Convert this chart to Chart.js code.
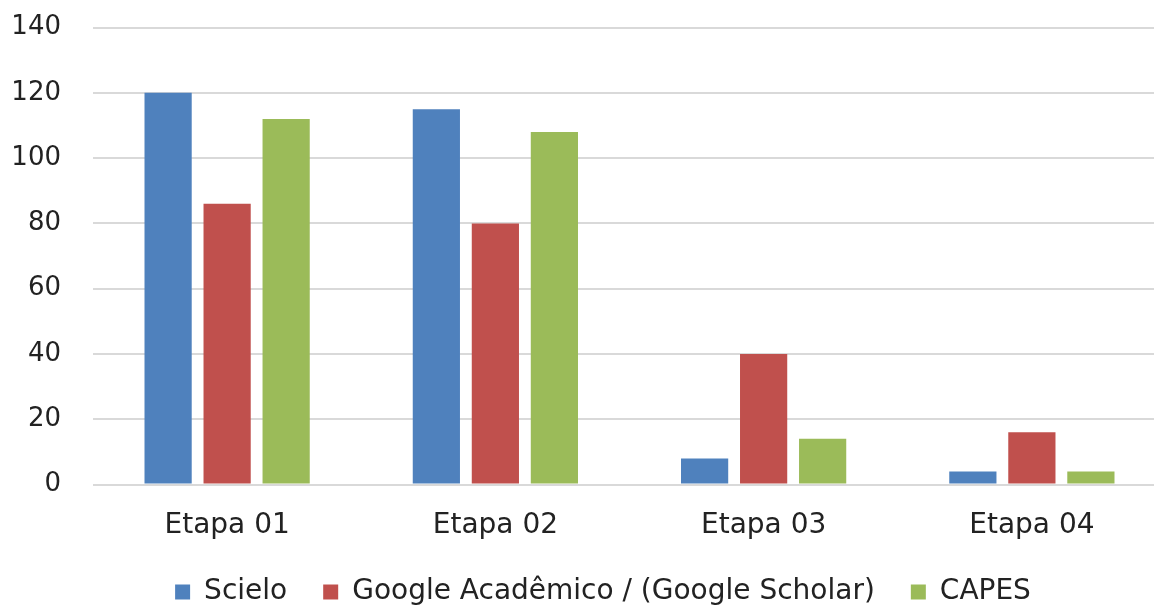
<!DOCTYPE html>
<html>
<head>
<meta charset="utf-8">
<script src="https://cdn.jsdelivr.net/npm/chart.js@4"></script>
<style>
  html, body { margin: 0; padding: 0; background: #fff; overflow: hidden; }
  #wrap { width: 1166px; height: 625px; margin-top: -20px; }
</style>
</head>
<body>
<div id="wrap"><canvas id="myChart" width="1166" height="625"></canvas></div>
<script>
let etapas = ["Etapa 01", "Etapa 02", "Etapa 03", "Etapa 04"];
let scielo = [120, 115, 8, 4];
let google = [86, 80, 40, 16];
let capes = [112, 108, 14, 4];
let yTicks = [0, 20, 40, 60, 80, 100, 120, 140];

Chart.defaults.font.family = "DejaVu Sans";
Chart.defaults.font.size = 26;
Chart.defaults.color = "#222";

// sposta la legenda un po' a destra, come nell'originale
const moverLegenda = {
  id: "moverLegenda",
  afterUpdate: function (chart) {
    chart.legend.left += 15;
    chart.legend.right += 15;
    chart.legend.adjustHitBoxes();
  },
};

function grafico() {
  var ctx = document.getElementById("myChart");
  var myChart = new Chart(ctx, {
    type: "bar",
    data: {
      labels: etapas,
      datasets: [
        { label: "Scielo", data: scielo, backgroundColor: "#4F81BD" },
        { label: "Google Acadêmico / (Google Scholar)", data: google, backgroundColor: "#C0504D" },
        { label: "CAPES", data: capes, backgroundColor: "#9BBB59" },
      ],
    },
    plugins: [moverLegenda],
    options: {
      responsive: false,
      animation: false,
      devicePixelRatio: 1,
      categoryPercentage: 0.66,
      barPercentage: 0.8,
      layout: { padding: { left: 10, right: 0, top: 0, bottom: -11 } },
      scales: {
        x: {
          afterFit: function (scale) { scale.height = 57.5; },
          grid: { display: false },
          border: { display: false },
          ticks: { padding: 16, font: { size: 28 } },
        },
        y: {
          min: 0,
          max: 140,
          afterFit: function (scale) { scale.width = 83; },
          afterBuildTicks: function (scale) {
            scale.ticks = yTicks.map(function (v) { return { value: v }; });
          },
          grid: { color: "#d9d9d9", lineWidth: 2, drawTicks: false },
          border: { display: false },
          ticks: { padding: 32 },
        },
      },
      plugins: {
        tooltip: { enabled: false },
        legend: {
          position: "bottom",
          labels: { boxWidth: 15, boxHeight: 15, padding: 36, font: { size: 28 } },
        },
      },
    },
  });
}
grafico();
</script>
</body>
</html>
